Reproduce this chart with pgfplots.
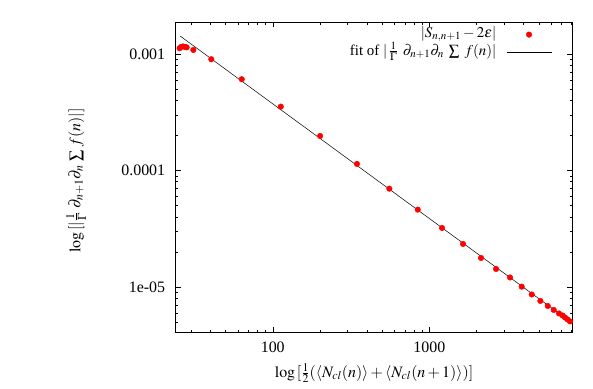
\documentclass[border=0pt]{standalone}
\usepackage{mathptmx}
\usepackage{fontspec}
\setmainfont{Liberation Serif}
\usepackage{pgfplots}
\pgfplotsset{compat=1.18}
\pgfplotsset{
  dotleg/.style={legend image code/.code={\draw[mark repeat=2,mark phase=2,##1] plot coordinates {(0bp,0bp) (22.5bp,0bp) (45bp,0bp)};}},
  lineleg/.style={legend image code/.code={\draw[##1] (0bp,0bp) -- (45bp,0bp);}},
}
\begin{document}
\begin{tikzpicture}[font=\fontsize{16}{19}\selectfont]
\path[use as bounding box] (0,0) rectangle (593bp,389bp);
\begin{axis}[
  at={(175.7bp,56.7bp)}, anchor=south west,
  scale only axis, width=396.6bp, height=310bp,
  xmode=log, ymode=log,
  xmin=24.0, xmax=8185, ymin=4.08e-6, ymax=1.87e-3,
  xtick={100,1000}, xticklabels={100,1000},
  ytick={1e-5,1e-4,1e-3}, yticklabels={1e-05,0.0001,0.001},
  minor xtick={30,40,50,60,70,80,90,200,300,400,500,600,700,800,900,2000,3000,4000,5000,6000,7000,8000},
  minor ytick={5e-6,6e-6,7e-6,8e-6,9e-6,2e-5,3e-5,4e-5,5e-5,6e-5,7e-5,8e-5,9e-5,2e-4,3e-4,4e-4,5e-4,6e-4,7e-4,8e-4,9e-4},
  tick align=inside,
  major tick length=5bp, minor tick length=2.7bp,
  every tick/.style={black, line width=0.5bp},
  axis line style={line width=0.6bp},
  xticklabel style={yshift=-6bp},
  yticklabel style={xshift=-7bp},
  every axis x label/.style={at={(axis description cs:0.5,-0.1313)}, anchor=center},
  every axis y label/.style={at={(axis description cs:-0.2514,0.49)}, rotate=90, anchor=center},
  xlabel={$\log\,[\frac{1}{2}(\langle N_{cl}(n)\rangle + \langle N_{cl}(n+1)\rangle)]$},
  ylabel={$\log\,[|\frac{1}{\Gamma}\;\partial_{n+1}\partial_n\,\sum\, f(n)|]$},
  legend plot pos=right,
  legend style={draw=none, fill=none, inner sep=0pt, font=\fontsize{15}{18}\selectfont,
    at={(axis description cs:0.9488,0.99)}, anchor=north east,
    cells={anchor=east}, row sep=0pt, column sep=10bp,
    nodes={text height=11.5bp, text depth=6.5bp, inner sep=0pt}},
]
\addplot[only marks, mark=*, mark size=2.8bp, color=red, mark options={fill=red, draw=red}, dotleg]
coordinates {
(25.4,1.12e-3) (26.0,1.15e-3) (26.7,1.16e-3) (27.5,1.15e-3) (28.2,1.14e-3)
(31.1,1.082e-3) (40.5,9.01e-4) (63.4,6.07e-4) (112.5,3.53e-4) (200.6,1.977e-4)
(345,1.138e-4) (555.5,6.98e-5) (843.5,4.61e-5) (1205,3.21e-5) (1641,2.34e-5)
(2138,1.774e-5) (2667,1.427e-5) (3276,1.206e-5) (3890,1.006e-5) (4508,8.62e-6)
(5117,7.59e-6) (5705,6.87e-6) (6230,6.35e-6) (6731,5.92e-6) (7090,5.69e-6)
(7355,5.47e-6) (7630,5.26e-6) (7915,5.06e-6)
};
\addlegendentry{$|S_{n,n+1} - 2\epsilon|$}
\addplot[black, line width=0.5bp, mark=none, lineleg]
coordinates {(25.6,1.427e-3) (8185,4.89e-6)};
\addlegendentry{fit of $|\,\frac{1}{\Gamma}\;\,\partial_{n+1}\partial_n\;\sum\;f(n)|$}
\end{axis}
\end{tikzpicture}
\end{document}
